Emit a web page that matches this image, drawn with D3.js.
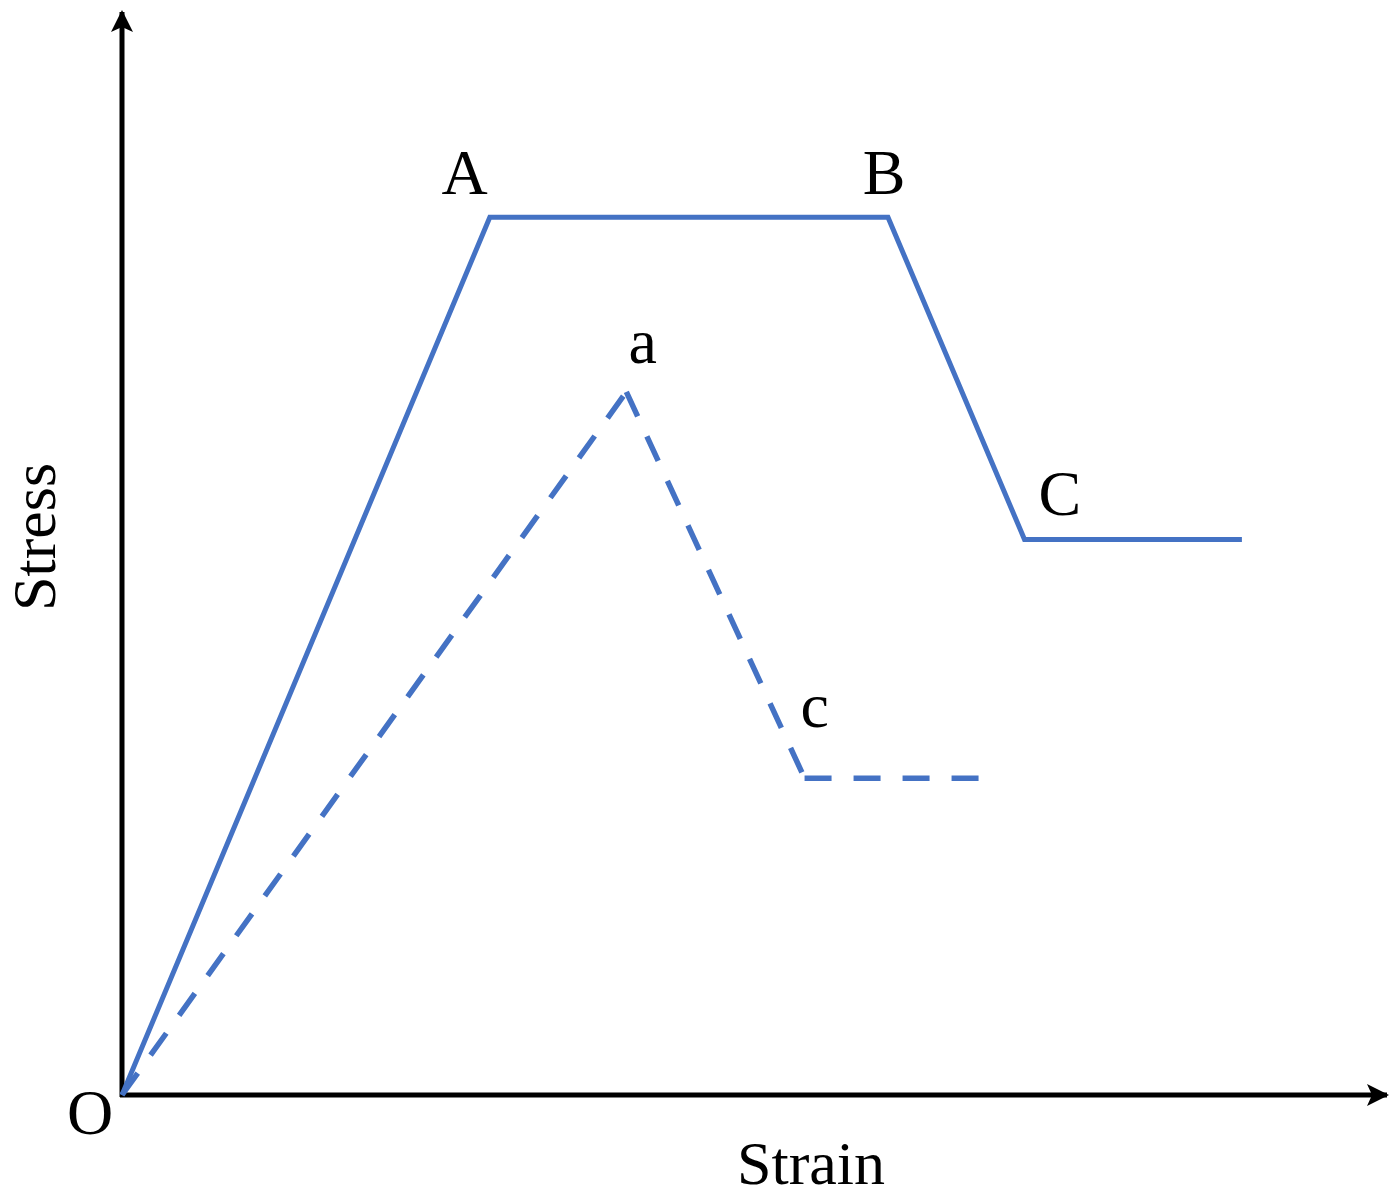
<!DOCTYPE html>
<html>
<head>
<meta charset="utf-8">
<script src="https://cdn.jsdelivr.net/npm/d3@7"></script>
<style>
  body { margin: 0; background: #fff; }
  text { font-family: "Liberation Serif", "Times New Roman", serif; fill: #000; }
</style>
</head>
<body>
<svg></svg>
<script>
// curve points (strain, stress) in arbitrary units 0..100
var solidStrain = [0, 29.1, 60.6, 71.4, 88.6];
var solidStress = [0, 80.9, 80.9, 51.2, 51.2];
var dashStrain = [0, 39.9, 54.0, 68.1];
var dashStress = [0, 64.8, 29.2, 29.2];

var pointNames = ["A", "B", "C", "a", "c"];
var pointStrain = [27.1, 60.3, 74.2, 41.2, 54.8];
var pointStress = [83.0, 83.0, 53.5, 67.5, 33.9];

var width = 1397,
    height = 1199;
var blue = "#4472C4";

var svg = d3.select("svg")
    .attr("width", width)
    .attr("height", height);

var x = d3.scaleLinear().domain([0, 100]).range([122, 1386]);
var y = d3.scaleLinear().domain([0, 100]).range([1095, 10]);

// arrowheads
var defs = svg.append("defs");
defs.append("marker")
    .attr("id", "arrow")
    .attr("viewBox", "0 0 22 22")
    .attr("refX", 20)
    .attr("refY", 11)
    .attr("markerWidth", 22)
    .attr("markerHeight", 22)
    .attr("markerUnits", "userSpaceOnUse")
    .attr("orient", "auto")
    .append("path")
    .attr("d", "M0,0 L22,11 L0,22 L5,11 Z")
    .attr("fill", "#000");

// axes
svg.append("line")
    .attr("x1", x(0)).attr("y1", y(0) + 2)
    .attr("x2", x(0)).attr("y2", 12)
    .attr("stroke", "#000")
    .attr("stroke-width", 5)
    .attr("marker-end", "url(#arrow)");

svg.append("line")
    .attr("x1", x(0) - 2).attr("y1", y(0))
    .attr("x2", 1387).attr("y2", y(0))
    .attr("stroke", "#000")
    .attr("stroke-width", 5)
    .attr("marker-end", "url(#arrow)");

var line = d3.line()
    .x(d => x(d[0]))
    .y(d => y(d[1]));

var solid = d3.zip(solidStrain, solidStress);
var dashed = d3.zip(dashStrain, dashStress);

// dashed curve: each segment restarts its dash pattern at the vertex
svg.append("g")
    .selectAll("path")
    .data(d3.pairs(dashed))
    .enter()
    .append("path")
    .attr("d", d => line(d))
    .attr("fill", "none")
    .attr("stroke", blue)
    .attr("stroke-width", 5.5)
    .attr("stroke-dasharray", "27,22");

svg.append("path")
    .attr("d", line(solid))
    .attr("fill", "none")
    .attr("stroke", blue)
    .attr("stroke-width", 5)
    .attr("stroke-linejoin", "miter");

// point labels
svg.append("g")
    .selectAll("text")
    .data(pointNames)
    .enter()
    .append("text")
    .attr("x", (d, i) => x(pointStrain[i]))
    .attr("y", (d, i) => y(pointStress[i]))
    .attr("text-anchor", "middle")
    .attr("font-size", 64)
    .text(d => d);

// origin and axis titles
svg.append("text")
    .attr("x", 90).attr("y", 1134)
    .attr("text-anchor", "middle")
    .attr("font-size", 64)
    .text("O");

svg.append("text")
    .attr("x", 811).attr("y", 1184)
    .attr("text-anchor", "middle")
    .attr("font-size", 62)
    .text("Strain");

svg.append("text")
    .attr("transform", "translate(55,537) rotate(-90)")
    .attr("text-anchor", "middle")
    .attr("font-size", 62)
    .text("Stress");
</script>
</body>
</html>
